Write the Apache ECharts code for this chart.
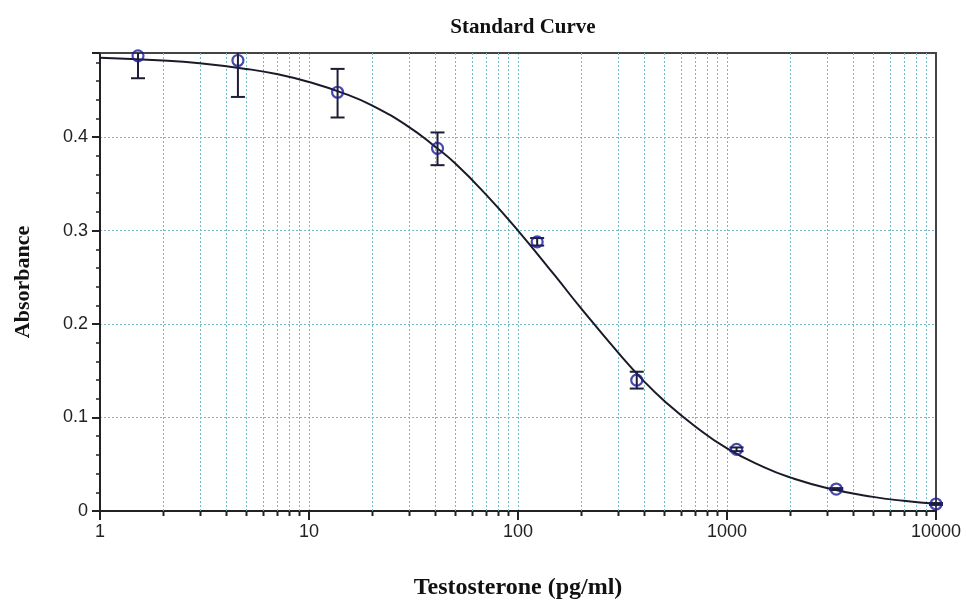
<!DOCTYPE html>
<html>
<head>
<meta charset="utf-8">
<script src="https://cdn.jsdelivr.net/npm/echarts@6/dist/echarts.min.js"></script>
<style>
  html, body { margin: 0; padding: 0; background: #fff; }
  #chart { width: 967px; height: 605px; }
</style>
</head>
<body>
<div id="chart"></div>
<script>
// standard points (three-fold dilution series)
const conc = [1.52, 4.57, 13.7, 41.2, 123.5, 370, 1111, 3333, 10000];
const absorbance = [0.487, 0.482, 0.448, 0.388, 0.288, 0.140, 0.066, 0.0235, 0.0075];
const errLow = [0.463, 0.443, 0.421, 0.370, 0.284, 0.131, 0.064, 0.0225, 0.0065];
const errHigh = [0.511, 0.521, 0.473, 0.405, 0.292, 0.149, 0.068, 0.0245, 0.0085];

// fitted curve
const curveX = [1, 2, 3, 5, 7, 10, 15, 20, 30, 40, 50, 70, 100, 150, 200, 300, 400, 500, 700, 1000, 1500, 2000, 3000, 5000, 7000, 10000];
const curveY = [0.485, 0.482, 0.479, 0.473, 0.4675, 0.459, 0.446, 0.434, 0.411, 0.390, 0.372, 0.339, 0.300, 0.252, 0.217, 0.170, 0.139, 0.118, 0.091, 0.067, 0.047, 0.036, 0.0247, 0.0151, 0.0109, 0.0077];

// minor log positions for grid and ticks
const minorX = [2, 3, 4, 5, 6, 7, 8, 9, 20, 30, 40, 50, 60, 70, 80, 90, 200, 300, 400, 500, 600, 700, 800, 900, 2000, 3000, 4000, 5000, 6000, 7000, 8000, 9000];

const Y_MAX = 0.49;
const GRID_COLOR = '#72bcc6';
const SERIF = '"Liberation Serif", "DejaVu Serif", serif';
const SANS = '"Liberation Sans", Arial, sans-serif';

const chart = echarts.init(document.getElementById('chart'));

function renderMinor(params, api) {
  const x = api.value(0);
  const bot = api.coord([x, 0]);
  const top = api.coord([x, Y_MAX]);
  const px = Math.round(bot[0]) + 0.5;
  return {
    type: 'group',
    children: [
      { type: 'line', shape: { x1: px, y1: bot[1], x2: px, y2: top[1] },
        style: { stroke: GRID_COLOR, lineWidth: 1, lineDash: [2, 2] } },
      { type: 'line', shape: { x1: px, y1: bot[1], x2: px, y2: bot[1] + 5 },
        style: { stroke: '#222', lineWidth: 2 } }
    ]
  };
}

function renderErr(params, api) {
  const x = api.value(0);
  const lo = api.value(1);
  const hi = api.value(2);
  const pLo = api.coord([x, lo]);
  const pHi = api.coord([x, Math.min(hi, Y_MAX)]);
  const w = 7;
  const st = { stroke: '#1d1d35', lineWidth: 2 };
  const children = [
    { type: 'line', shape: { x1: pLo[0], y1: pLo[1], x2: pHi[0], y2: pHi[1] }, style: st },
    { type: 'line', shape: { x1: pLo[0] - w, y1: pLo[1], x2: pLo[0] + w, y2: pLo[1] }, style: st }
  ];
  if (hi < Y_MAX) {
    children.push({ type: 'line', shape: { x1: pHi[0] - w, y1: pHi[1], x2: pHi[0] + w, y2: pHi[1] }, style: st });
  }
  return { type: 'group', children: children };
}

const frameAxis = { show: true, onZero: false, lineStyle: { color: '#444', width: 2 } };

chart.setOption({
  animation: false,
  title: {
    text: 'Standard Curve',
    left: 518,
    top: 12,
    textAlign: 'center',
    textStyle: { fontFamily: SERIF, fontWeight: 'bold', fontSize: 21, color: '#111' }
  },
  grid: { left: 100, right: 31, top: 53, bottom: 93 },
  xAxis: [{
    type: 'log',
    logBase: 10,
    min: 1,
    max: 10000,
    name: 'Testosterone (pg/ml)',
    nameLocation: 'middle',
    nameGap: 65,
    nameTextStyle: { fontFamily: SERIF, fontWeight: 'bold', fontSize: 24, color: '#111' },
    axisLine: { onZero: false, lineStyle: { color: '#222', width: 2 } },
    axisTick: { length: 9, lineStyle: { color: '#222', width: 2 } },
    axisLabel: { fontFamily: SANS, fontSize: 18, color: '#222', margin: 12, formatter: v => String(v) },
    splitLine: { show: true, lineStyle: { color: GRID_COLOR, type: [2, 2], width: 1 } }
  }, {
    type: 'log',
    logBase: 10,
    min: 1,
    max: 10000,
    position: 'top',
    axisLine: frameAxis,
    axisTick: { show: false },
    axisLabel: { show: false },
    splitLine: { show: false }
  }],
  yAxis: [{
    type: 'value',
    min: 0,
    max: Y_MAX,
    interval: 0.1,
    name: 'Absorbance',
    nameLocation: 'middle',
    nameGap: 66,
    nameTextStyle: { fontFamily: SERIF, fontWeight: 'bold', fontSize: 22, color: '#111' },
    axisLine: { show: true, onZero: false, lineStyle: { color: '#222', width: 2 } },
    axisTick: { show: true, length: 8, lineStyle: { color: '#222', width: 2 } },
    minorTick: { show: true, splitNumber: 5, length: 4, lineStyle: { color: '#222', width: 1.5 } },
    axisLabel: {
      fontFamily: SANS, fontSize: 18, color: '#222', margin: 12, showMaxLabel: false,
      formatter: v => (v === 0 ? '0' : v.toFixed(1))
    },
    splitLine: { show: true, lineStyle: { color: GRID_COLOR, type: [2, 2], width: 1 } }
  }, {
    type: 'value',
    min: 0,
    max: Y_MAX,
    position: 'right',
    axisLine: frameAxis,
    axisTick: { show: false },
    axisLabel: { show: false },
    splitLine: { show: false }
  }],
  series: [
    {
      type: 'custom',
      name: 'minor',
      renderItem: renderMinor,
      data: minorX.map(v => [v, 0]),
      silent: true,
      z: 1
    },
    {
      type: 'line',
      name: 'fit',
      data: curveX.map((x, i) => [x, curveY[i]]),
      smooth: true,
      showSymbol: false,
      lineStyle: { color: '#1a1a28', width: 2 },
      z: 3
    },
    {
      type: 'custom',
      name: 'err',
      renderItem: renderErr,
      data: conc.map((x, i) => [x, errLow[i], errHigh[i]]),
      encode: { x: 0, y: [1, 2] },
      z: 4
    },
    {
      type: 'scatter',
      name: 'standards',
      data: conc.map((x, i) => [x, absorbance[i]]),
      symbol: 'circle',
      symbolSize: 11,
      itemStyle: { color: 'rgba(255,255,255,0)', borderColor: '#1c1c99', borderWidth: 2.2 },
      z: 5
    }
  ]
});
</script>
</body>
</html>
